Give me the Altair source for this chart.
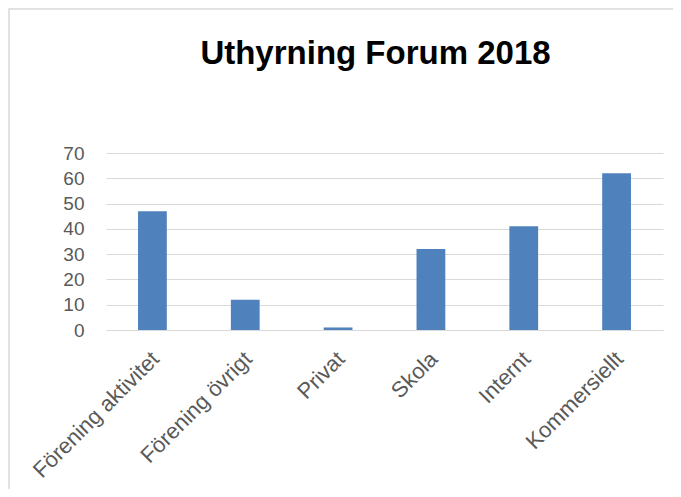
import altair as alt
import pandas as pd

categories = ["Förening aktivitet", "Förening övrigt", "Privat", "Skola", "Internt", "Kommersiellt"]
values = [47, 12, 1, 32, 41, 62]
title_text = "Uthyrning Forum 2018"

df = pd.DataFrame({"kategori": categories, "antal": values})

border = alt.Chart(pd.DataFrame({"a": [0]})).mark_rect(
    fill=None, stroke="#d9d9d9", strokeWidth=1.5
).encode(
    x=alt.value(-97), x2=alt.value(700), y=alt.value(-144), y2=alt.value(700)
)

bars = alt.Chart(df).mark_bar(color="#4f81bd").encode(
    x=alt.X("kategori:N", sort=categories, title=None,
            scale=alt.Scale(paddingInner=0.69, paddingOuter=0.345),
            axis=alt.Axis(labelAngle=-45, ticks=False, domainColor="#d9d9d9",
                          domainWidth=1, labelFontSize=22, labelColor="#595959",
                          labelFont="Liberation Sans", labelPadding=18,
                          labelOffset=-4)),
    y=alt.Y("antal:Q", title=None,
            scale=alt.Scale(domain=[0, 70], nice=False),
            axis=alt.Axis(values=[0, 10, 20, 30, 40, 50, 60, 70], ticks=False,
                          domain=False, gridColor="#d9d9d9", gridWidth=1,
                          labelFontSize=19, labelColor="#595959",
                          labelFont="Liberation Sans", labelPadding=22)),
)

chart = alt.layer(border, bars).properties(
    width=557, height=177,
    title=alt.TitleParams(title_text, font="Liberation Sans", fontSize=33,
                          fontWeight="bold", color="#000000", anchor="middle",
                          baseline="alphabetic", offset=-89, dx=-9),
    padding={"left": 98, "top": 145, "right": 10, "bottom": 159},
    autosize=alt.AutoSizeParams(type="none"),
).configure(background="white").configure_view(stroke=None)

chart.save("out.html", embed_options={"renderer": "svg", "actions": False})
